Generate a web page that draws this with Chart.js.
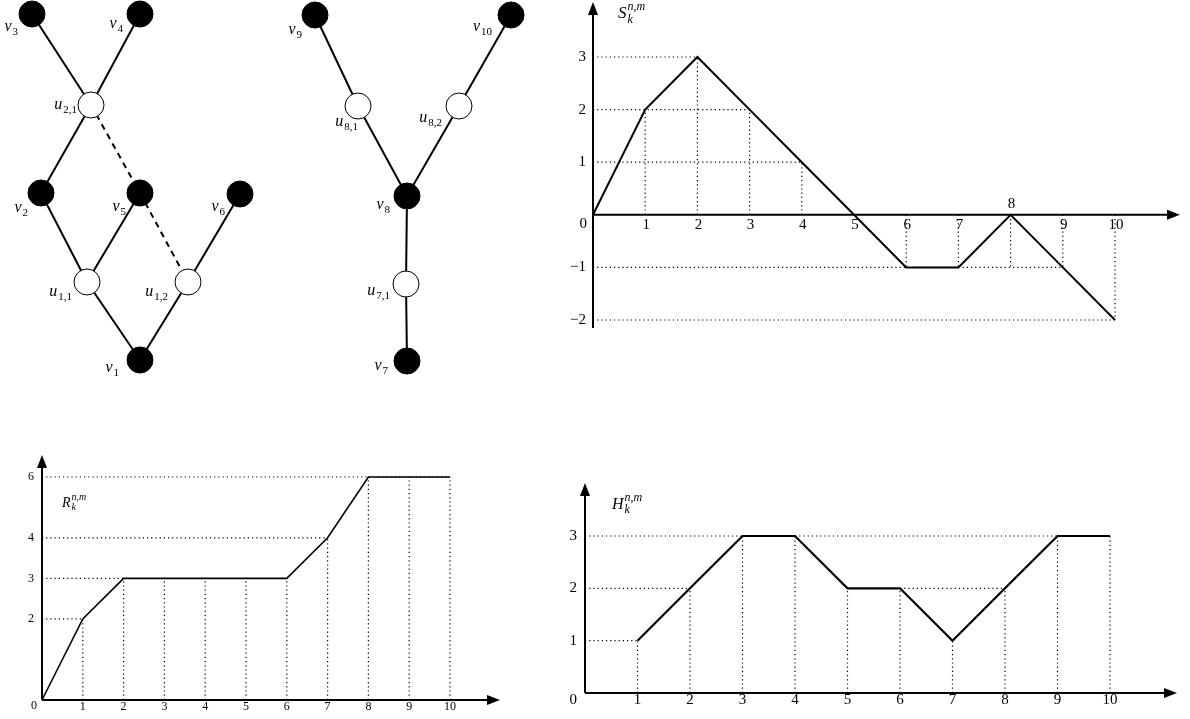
<!DOCTYPE html>
<html>
<head>
<meta charset="utf-8">
<script src="https://cdn.jsdelivr.net/npm/chart.js@4.4.1/dist/chart.umd.min.js"></script>
<style>
  html, body { margin: 0; padding: 0; background: #fff; }
  body { width: 1190px; height: 719px; position: relative; overflow: hidden; }
  canvas { position: absolute; }
</style>
</head>
<body>
<canvas id="arbres" width="560" height="390" style="left:0;top:0"></canvas>
<canvas id="grapheS" width="630" height="340" style="left:560px;top:0"></canvas>
<canvas id="grapheR" width="520" height="279" style="left:0;top:440px"></canvas>
<canvas id="grapheH" width="650" height="249" style="left:540px;top:470px"></canvas>
<script>
// ---------------- données ----------------
// abscisses k
const kValues = [0, 1, 2, 3, 4, 5, 6, 7, 8, 9, 10];
const xTicks = [1, 2, 3, 4, 5, 6, 7, 8, 9, 10];

// S_k^{n,m}
const sValues = [0, 2, 3, 2, 1, 0, -1, -1, 0, -1, -2];
const sTicksY = [3, 2, 1, -1, -2];
// pointillés : [niveau, de k, à k] et [k, de, à]
const sGuidesH = [[3, 0, 2], [2, 0, 3], [1, 0, 4], [-1, 0, 9], [-2, 0, 10]];
const sGuidesV = [[1, 0, 2], [2, 0, 3], [3, 0, 2], [4, 0, 1], [6, 0, -1], [7, 0, -1], [8, 0, -1], [9, 0, -1], [10, 0, -2]];

// R_k^{n,m}
const rValues = [0, 2, 3, 3, 3, 3, 3, 4, 6, 6, 6];
const rTicksY = [2, 3, 4, 6];
const rGuidesH = [[2, 0, 1], [3, 0, 2], [4, 0, 7], [6, 0, 10]];
// l'axe des ordonnées de R n'est pas à l'échelle au-dessus de 4
const rWarpIn = [0, 4, 6];
const rWarpOut = [0, 4, 5.5];

// H_k^{n,m}
const hK = [1, 2, 3, 4, 5, 6, 7, 8, 9, 10];
const hValues = [1, 2, 3, 3, 2, 2, 1, 2, 3, 3];
const hTicksY = [1, 2, 3];
const hGuidesH = [[1, 0, 1], [2, 0, 2], [2, 6, 8], [3, 0, 9]];

// arbres : position des sommets
const noeuds = {
  v1: [140, 360], v2: [41, 193], v3: [32, 14], v4: [140, 14], v5: [140, 193], v6: [240, 194],
  u11: [87, 282], u12: [188, 282], u21: [91, 105],
  v7: [407, 361], v8: [407, 196], v9: [315, 15], v10: [511, 15],
  u71: [406, 284], u81: [358, 106], u82: [459, 106]
};
const noeudsNoirs = ['v1', 'v2', 'v3', 'v4', 'v5', 'v6', 'v7', 'v8', 'v9', 'v10'];
const noeudsBlancs = ['u11', 'u12', 'u21', 'u71', 'u81', 'u82'];
const aretes = [['v3', 'u21'], ['v4', 'u21'], ['u21', 'v2'], ['v2', 'u11'], ['v5', 'u11'], ['u11', 'v1'],
  ['u12', 'v1'], ['v6', 'u12'], ['v9', 'u81'], ['u81', 'v8'], ['v10', 'u82'], ['u82', 'v8'], ['v8', 'u71'], ['u71', 'v7']];
const aretesPointillees = [['u21', 'v5'], ['v5', 'u12']];
// étiquettes : [sommet, lettre, indice]
const etiquettes = [
  ['v1', 'v', '1'], ['v2', 'v', '2'], ['v3', 'v', '3'], ['v4', 'v', '4'], ['v5', 'v', '5'], ['v6', 'v', '6'],
  ['u11', 'u', '1,1'], ['u12', 'u', '1,2'], ['u21', 'u', '2,1'],
  ['v7', 'v', '7'], ['v8', 'v', '8'], ['v9', 'v', '9'], ['v10', 'v', '10'],
  ['u71', 'u', '7,1'], ['u81', 'u', '8,1'], ['u82', 'u', '8,2']
];
// décalage des étiquettes (bord droit, centre vertical) par rapport au sommet
const decalages = {
  v1: [-21, 8], v2: [-13, 15], v3: [-14, 13], v4: [-17, 10], v5: [-14, 14], v6: [-15, 13],
  u11: [-15, 10], u12: [-20, 10], u21: [-14, 0],
  v7: [-19, 5], v8: [-17, 9], v9: [-13, 15], v10: [-19, 12],
  u71: [-16, 7], u81: [0, 16], u82: [-17, 12]
};

// ---------------- outils ----------------
const SERIF = '"Liberation Serif", "DejaVu Serif", serif';

function warp(v) {
  for (let i = 1; i < rWarpIn.length; i++) {
    if (v <= rWarpIn[i] || i === rWarpIn.length - 1) {
      const a = rWarpIn[i - 1], b = rWarpIn[i];
      return rWarpOut[i - 1] + (v - a) * (rWarpOut[i] - rWarpOut[i - 1]) / (b - a);
    }
  }
  return v;
}

class WarpScale extends Chart.LinearScale {
  getPixelForValue(value, index) {
    if (value === null || value === undefined) return NaN;
    return super.getPixelForValue(warp(value), index);
  }
}
WarpScale.id = 'warp';
WarpScale.defaults = Chart.LinearScale.defaults;
Chart.register(WarpScale);

// lettre italique avec indice / exposant
function drawMath(ctx, x, y, base, sub, sup, align, size, italicScripts, ratio) {
  const small = Math.round(size * (ratio || 0.68));
  ctx.font = 'italic ' + size + 'px ' + SERIF;
  const wb = ctx.measureText(base).width;
  ctx.font = (italicScripts ? 'italic ' : '') + small + 'px ' + SERIF;
  const ws = Math.max(sub ? ctx.measureText(sub).width : 0, sup ? ctx.measureText(sup).width : 0);
  const total = wb + ws + 1;
  let x0 = x;
  if (align === 'right') x0 = x - total;
  ctx.fillStyle = '#000';
  ctx.textAlign = 'left';
  ctx.textBaseline = 'middle';
  ctx.font = 'italic ' + size + 'px ' + SERIF;
  ctx.fillText(base, x0, y);
  ctx.font = (italicScripts ? 'italic ' : '') + small + 'px ' + SERIF;
  if (sub) ctx.fillText(sub, x0 + wb + 1, y + size * 0.32);
  if (sup) ctx.fillText(sup, x0 + wb + 1, y - size * 0.42);
}

function segments(list) {
  const pts = [];
  list.forEach(([x1, y1, x2, y2]) => {
    pts.push({ x: x1, y: y1 }, { x: x2, y: y2 }, { x: x2, y: null });
  });
  return pts;
}

function arrow(ctx, x, y, dir) {
  ctx.beginPath();
  if (dir === 'right') {
    ctx.moveTo(x, y); ctx.lineTo(x - 13, y - 5); ctx.lineTo(x - 13, y + 5);
  } else {
    ctx.moveTo(x, y); ctx.lineTo(x - 5, y + 13); ctx.lineTo(x + 5, y + 13);
  }
  ctx.closePath();
  ctx.fill();
}

// axes, flèches, graduations et titre
function sketchPlugin(cfg) {
  return {
    id: 'sketch_' + cfg.name,
    beforeDatasetsDraw(chart) {
      const { ctx, chartArea, scales: { x, y } } = chart;
      const x0 = x.getPixelForValue(0), y0 = y.getPixelForValue(0);
      ctx.save();
      ctx.strokeStyle = '#000';
      ctx.fillStyle = '#000';
      ctx.lineWidth = 2;
      const xEnd = chartArea.right + cfg.arrowX;
      const yEnd = chartArea.top - cfg.arrowY;
      ctx.beginPath();
      ctx.moveTo(x0, y0); ctx.lineTo(xEnd - 8, y0);
      ctx.moveTo(x0, chartArea.bottom + cfg.belowY); ctx.lineTo(x0, yEnd + 8);
      ctx.stroke();
      arrow(ctx, xEnd, y0, 'right');
      arrow(ctx, x0, yEnd, 'up');
      ctx.restore();
    },
    afterDraw(chart) {
      const { ctx, chartArea, scales: { x, y } } = chart;
      const x0 = x.getPixelForValue(0), y0 = y.getPixelForValue(0);
      ctx.save();
      ctx.fillStyle = '#000';
      ctx.font = cfg.fontSize + 'px ' + SERIF;
      ctx.textBaseline = 'middle';
      ctx.textAlign = 'center';
      cfg.xTicks.forEach(t => {
        const above = cfg.above.includes(t);
        ctx.fillText(String(t), x.getPixelForValue(t) + cfg.xShift, above ? y0 - cfg.aboveOff : y0 + cfg.xOff);
      });
      ctx.textAlign = 'right';
      cfg.yTicks.forEach(t => {
        ctx.fillText(t < 0 ? '\u2212' + Math.abs(t) : String(t), x0 - cfg.yOff, y.getPixelForValue(t));
      });
      ctx.fillText('0', x0 + cfg.zero[0], y0 + cfg.zero[1]);
      drawMath(ctx, x0 + cfg.title[0], chartArea.top + cfg.title[1], cfg.titleLetter, 'k', 'n,m', 'left', cfg.titleSize, true, 0.72);
      ctx.restore();
    }
  };
}

function buildGraph(id, points, guides, cfg) {
  new Chart(document.getElementById(id), {
    type: 'line',
    data: {
      datasets: [{
        data: points,
        borderColor: '#000',
        borderWidth: cfg.lineWidth,
        pointRadius: 0,
        tension: 0,
        clip: false,
        order: 0
      }, {
        data: segments(guides),
        borderColor: '#000',
        borderWidth: 1.2,
        borderDash: [1.2, 3],
        pointRadius: 0,
        tension: 0,
        clip: false,
        order: 1
      }]
    },
    options: {
      responsive: false,
      animation: false,
      events: [],
      layout: { padding: cfg.padding, autoPadding: false },
      scales: {
        x: { type: 'linear', min: 0, max: 10, display: false },
        y: { type: cfg.yType, min: cfg.yMin, max: cfg.yMax, display: false }
      },
      plugins: { legend: { display: false }, tooltip: { enabled: false } }
    },
    plugins: [sketchPlugin(cfg)]
  });
}

// ---------------- graphique S ----------------
buildGraph('grapheS',
  kValues.map((k, i) => ({ x: k, y: sValues[i] })),
  sGuidesH.map(([v, a, b]) => [a, v, b, v]).concat(sGuidesV.map(([k, a, b]) => [k, a, k, b])),
  {
    name: 'S', yType: 'linear', yMin: -2, yMax: 3, lineWidth: 2,
    padding: { left: 33, right: 75, top: 57, bottom: 20 },
    arrowX: 65, arrowY: 55, belowY: 8,
    xTicks: xTicks, yTicks: sTicksY, above: [8], xShift: 1, xOff: 10, aboveOff: 11, yOff: 7,
    fontSize: 15, zero: [-6, 9], title: [25, -43], titleLetter: 'S', titleSize: 17
  });

// ---------------- graphique R ----------------
buildGraph('grapheR',
  kValues.map((k, i) => ({ x: k, y: rValues[i] })),
  rGuidesH.map(([v, a, b]) => [a, v, b, v]).concat(kValues.slice(1).map(k => [k, 0, k, rValues[k]])),
  {
    name: 'R', yType: 'warp', yMin: 0, yMax: 5.5, lineWidth: 1.6,
    padding: { left: 42, right: 70, top: 37, bottom: 19 },
    arrowX: 50, arrowY: 22, belowY: 0,
    xTicks: xTicks, yTicks: rTicksY, above: [], xShift: 0, xOff: 7, aboveOff: 0, yOff: 8,
    fontSize: 12, zero: [-5, 6], title: [20, 26], titleLetter: 'R', titleSize: 14
  });

// ---------------- graphique H ----------------
buildGraph('grapheH',
  hK.map((k, i) => ({ x: k, y: hValues[i] })),
  hGuidesH.map(([v, a, b]) => [a, v, b, v]).concat(hK.map((k, i) => [k, 0, k, hValues[i]])),
  {
    name: 'H', yType: 'linear', yMin: 0, yMax: 3, lineWidth: 2.2,
    padding: { left: 45, right: 80, top: 66, bottom: 26 },
    arrowX: 67, arrowY: 53, belowY: 0,
    xTicks: xTicks, yTicks: hTicksY, above: [], xShift: 0, xOff: 7, aboveOff: 0, yOff: 8,
    fontSize: 15, zero: [-8, 7], title: [27, -31], titleLetter: 'H', titleSize: 16
  });

// ---------------- arbres ----------------
const pos = id => ({ x: noeuds[id][0], y: noeuds[id][1] });
const edgePts = list => {
  const pts = [];
  list.forEach(([a, b]) => { pts.push(pos(a), pos(b), { x: noeuds[b][0], y: null }); });
  return pts;
};

const etiquettesPlugin = {
  id: 'etiquettes',
  afterDatasetsDraw(chart) {
    const { ctx, scales: { x, y } } = chart;
    ctx.save();
    etiquettes.forEach(([id, base, sub]) => {
      const px = x.getPixelForValue(noeuds[id][0]);
      const py = y.getPixelForValue(noeuds[id][1]);
      const d = decalages[id];
      drawMath(ctx, px + d[0], py + d[1], base, sub, null, 'right', 16, false);
    });
    ctx.restore();
  }
};

new Chart(document.getElementById('arbres'), {
  type: 'line',
  data: {
    datasets: [{
      data: noeudsNoirs.map(pos),
      showLine: false,
      pointRadius: 13,
      pointBackgroundColor: '#000',
      pointBorderColor: '#000',
      pointBorderWidth: 1,
      order: 0
    }, {
      data: noeudsBlancs.map(pos),
      showLine: false,
      pointRadius: 13,
      pointBackgroundColor: '#fff',
      pointBorderColor: '#000',
      pointBorderWidth: 1,
      order: 0
    }, {
      data: edgePts(aretes),
      borderColor: '#000',
      borderWidth: 2,
      pointRadius: 0,
      clip: false,
      order: 2
    }, {
      data: edgePts(aretesPointillees),
      borderColor: '#000',
      borderWidth: 2,
      borderDash: [6, 5],
      pointRadius: 0,
      clip: false,
      order: 2
    }]
  },
  options: {
    responsive: false,
    animation: false,
    events: [],
    layout: { padding: 0, autoPadding: false },
    scales: {
      x: { type: 'linear', min: 0, max: 560, display: false },
      y: { type: 'linear', min: 0, max: 390, reverse: true, display: false }
    },
    plugins: { legend: { display: false }, tooltip: { enabled: false } }
  },
  plugins: [etiquettesPlugin]
});
</script>
</body>
</html>
